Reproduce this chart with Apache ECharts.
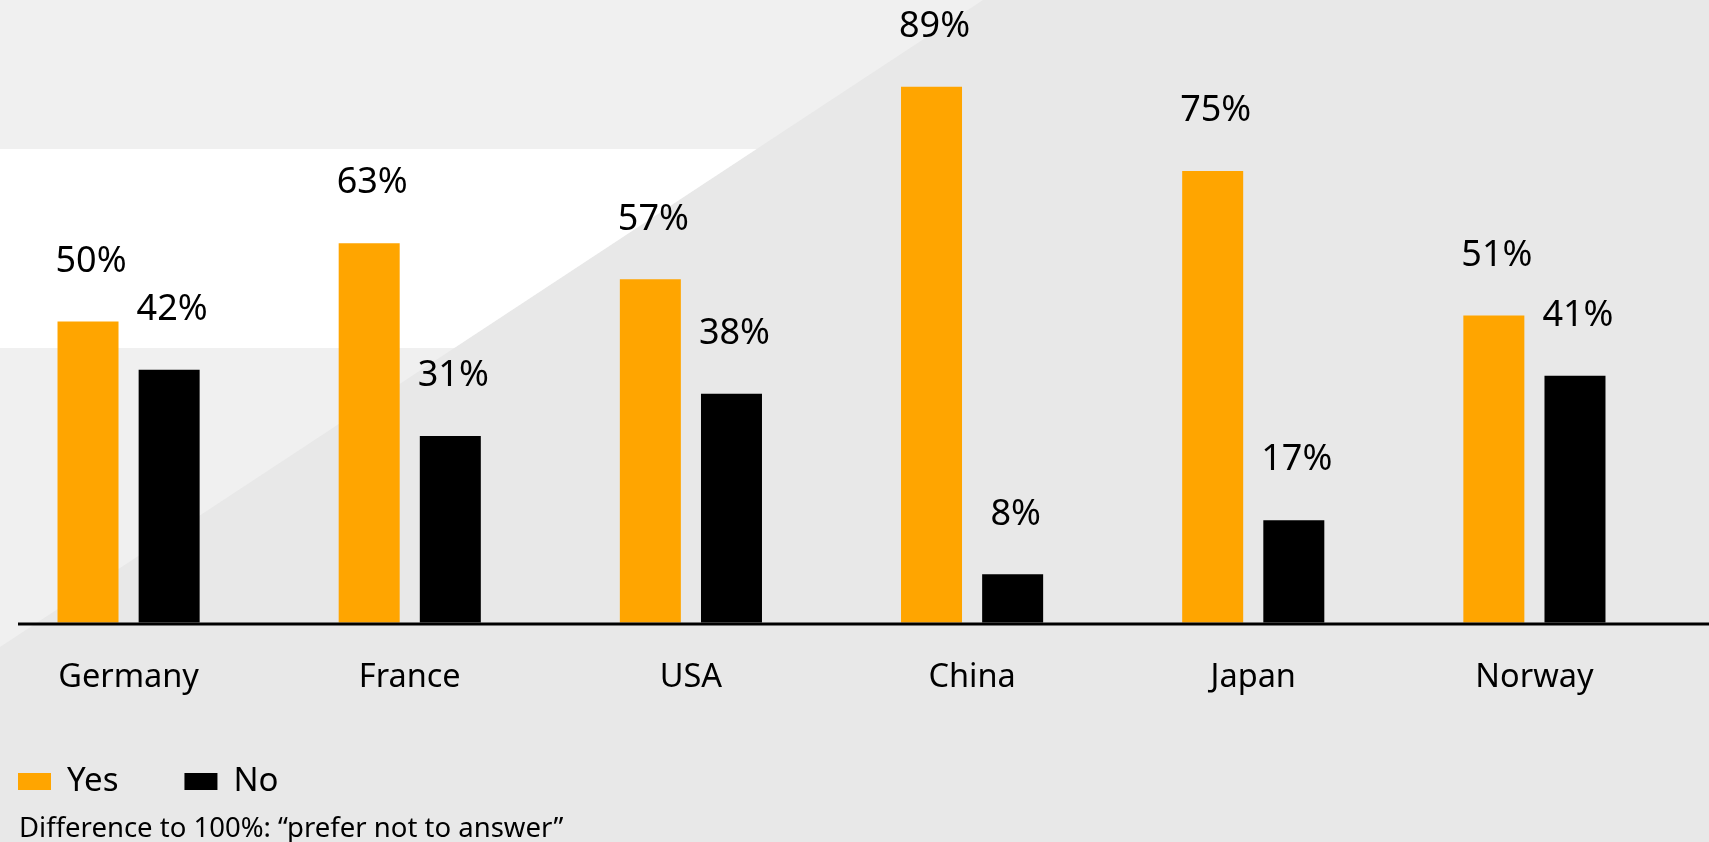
<!DOCTYPE html>
<html>
<head>
<meta charset="utf-8">
<script src="https://cdn.jsdelivr.net/npm/echarts@6/dist/echarts.min.js"></script>
<style>
  html, body { margin: 0; padding: 0; background: #e8e8e8; }
  #chart { width: 1709px; height: 842px; }
</style>
</head>
<body>
<div id="chart"></div>
<script>
// Survey answers per country (share of respondents, %)
const countries = ['Germany', 'France', 'USA', 'China', 'Japan', 'Norway'];
const yesShare = [50, 63, 57, 89, 75, 51];
const noShare = [42, 31, 38, 8, 17, 41];
const seriesNames = ['Yes', 'No'];
const footnote = 'Difference to 100%: \u201Cprefer not to answer\u201D';

const FONT = '"Noto Sans", "Open Sans", sans-serif';
const ORANGE = '#ffa500';
const BLACK = '#000000';

const chart = echarts.init(document.getElementById('chart'), null, { renderer: 'canvas' });

// Decorative background: light panel left of a diagonal, with a white band
const W = 1709, H = 842;
const diagTopX = 983, diagLeftY = 647;
const diagX = y => diagTopX * (1 - y / diagLeftY);
const bandTop = 149, bandBottom = 348;

const valueLabel = {
  show: true,
  position: 'top',
  distance: 42,
  offset: [3, 0],
  formatter: '{c}%',
  fontSize: 36,
  fontFamily: FONT,
  color: '#000'
};

chart.setOption({
  backgroundColor: '#e8e8e8',
  animation: false,
  graphic: [
    {
      type: 'polygon', z: -10, silent: true,
      shape: { points: [[0, 0], [diagTopX, 0], [0, diagLeftY]] },
      style: { fill: '#f0f0f0' }
    },
    {
      type: 'polygon', z: -9, silent: true,
      shape: { points: [[0, bandTop], [diagX(bandTop), bandTop], [diagX(bandBottom), bandBottom], [0, bandBottom]] },
      style: { fill: '#ffffff' }
    },
    {
      type: 'line', z: 50, silent: true,
      shape: { x1: 18, y1: 624, x2: W, y2: 624 },
      style: { stroke: '#000', lineWidth: 3 }
    }
  ],
  title: {
    text: footnote,
    left: 19,
    top: 815,
    padding: 0,
    textStyle: { fontSize: 27.5, fontWeight: 'normal', fontFamily: FONT, color: '#000' }
  },
  legend: {
    data: seriesNames,
    left: 18,
    top: 765,
    padding: 0,
    icon: 'rect',
    itemWidth: 33,
    itemHeight: 17,
    itemGap: 66,
    textStyle: { fontSize: 33, fontFamily: FONT, color: '#000', padding: [0, 0, 8, 11] }
  },
  grid: {
    left: -12, right: 34, top: 20.5, bottom: 219.5,
    containLabel: false,
    outerBoundsMode: 'none'
  },
  xAxis: {
    type: 'category',
    data: countries,
    axisLine: { show: false },
    axisTick: { show: false },
    axisLabel: { margin: 39, fontSize: 32.5, fontFamily: FONT, color: '#000' },
    splitLine: { show: false }
  },
  yAxis: {
    type: 'value',
    min: 0,
    max: 100,
    show: false,
    splitLine: { show: false }
  },
  series: [
    {
      name: seriesNames[0],
      type: 'bar',
      data: yesShare,
      barWidth: 61,
      barGap: '33%',
      itemStyle: { color: ORANGE },
      label: valueLabel
    },
    {
      name: seriesNames[1],
      type: 'bar',
      data: noShare,
      barWidth: 61,
      barGap: '33%',
      itemStyle: { color: BLACK },
      label: valueLabel
    }
  ]
});
</script>
</body>
</html>
